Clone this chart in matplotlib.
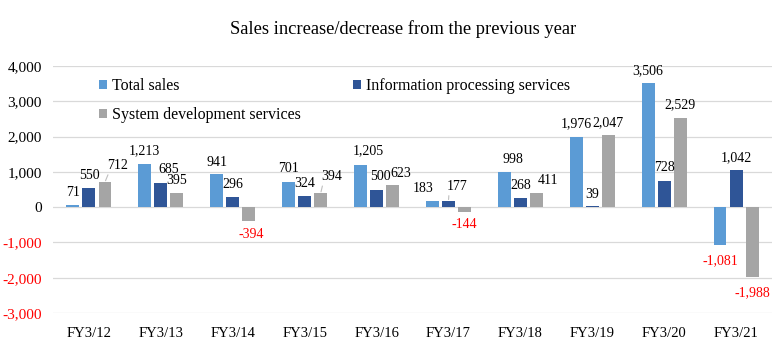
import matplotlib
matplotlib.use("Agg")
import matplotlib.pyplot as plt
import numpy as np

plt.rcParams['font.family'] = ['Liberation Serif', 'DejaVu Serif']

# data
years = ['FY3/12', 'FY3/13', 'FY3/14', 'FY3/15', 'FY3/16',
         'FY3/17', 'FY3/18', 'FY3/19', 'FY3/20', 'FY3/21']
total_sales = [71, 1213, 941, 701, 1205, 183, 998, 1976, 3506, -1081]
info_proc = [550, 685, 296, 324, 500, 177, 268, 39, 728, 1042]
sys_dev = [712, 395, -394, 394, 623, -144, 411, 2047, 2529, -1988]

# label nudges in pixels (dx, dy), like the hand-moved labels in the original
off_total = [(0, 4), (0, 5), (0, 3), (0, 5), (8, 5), (-9, 4), (9, 4), (0, 5), (0, 4), (0, -7)]
off_info = [(0, 4), (8, 5), (0, 4), (0, 4), (4, 4), (9, 6), (0, 4), (0, 3), (0, 5), (0, 4)]
off_sys = [(13, 8), (0, 4), (2, -5), (11, 8), (8, 3), (0, -4), (12, 4), (0, 4), (0, 5), (0, -7)]
leader = {('sys', 0), ('sys', 3), ('info', 5)}

c_total = '#5B9BD5'
c_info = '#2F5597'
c_sys = '#A5A5A5'

fig = plt.figure(figsize=(7.84, 3.53), dpi=100)
ax = fig.add_axes([53/784, 1-313/353, (772-53)/784, (313-66)/353])

x = np.arange(len(years))
w = 0.18
step = 0.223
b1 = ax.bar(x - step, total_sales, w, color=c_total, label='Total sales', zorder=2)
b3 = ax.bar(x + step, sys_dev, w, color=c_sys, label='System development services', zorder=2)
b2 = ax.bar(x, info_proc, w, color=c_info, label='Information processing services', zorder=2)


def put_labels(bars, vals, offs, key):
    for i, (b, v) in enumerate(zip(bars, vals)):
        dx, dy = offs[i]
        bx = b.get_x() + b.get_width()/2
        if v >= 0:
            gap = 2 + dy
            va = 'bottom'
            col = 'black'
        else:
            gap = -2 + dy
            va = 'top'
            col = '#FF0000'
        kw = {}
        if (key, i) in leader:
            kw['arrowprops'] = dict(arrowstyle='-', color='#BFBFBF', lw=0.8,
                                    shrinkA=0, shrinkB=1, relpos=(0.1, 0.1))
        ax.annotate(f'{v:,}', (bx, v), xytext=(dx, gap), textcoords='offset pixels',
                    ha='center', va=va, fontsize=10, color=col, **kw)


put_labels(b1, total_sales, off_total, 'total')
put_labels(b2, info_proc, off_info, 'info')
put_labels(b3, sys_dev, off_sys, 'sys')

ax.set_xlim(-0.5, len(years) - 0.5)
ax.set_ylim(-3000, 4000)
yt = np.arange(-3000, 4001, 1000)
ax.set_yticks(yt)
ax.set_yticklabels([f'{v:,}' for v in yt], fontsize=11)
for lab, v in zip(ax.get_yticklabels(), yt):
    if v < 0:
        lab.set_color('#FF0000')
ax.set_xticks(x)
ax.set_xticklabels(years, fontsize=10.5)
ax.tick_params(axis='both', length=0)
ax.tick_params(axis='x', pad=10)
ax.tick_params(axis='y', pad=8)
ax.grid(axis='y', color='#D9D9D9', lw=0.9, zorder=0)
ax.set_axisbelow(True)
for s in ax.spines.values():
    s.set_visible(False)

ax.legend(handles=[b1, b3, b2], ncol=2, loc='upper left',
          bbox_to_anchor=(99/784, 1-78/353), bbox_transform=fig.transFigure,
          frameon=False, fontsize=11.5, borderpad=0, borderaxespad=0,
          handlelength=0.5, handleheight=0.5, handletextpad=0.3,
          columnspacing=3.3, labelspacing=0.8)

fig.text(0.514, 1-29/353, 'Sales increase/decrease from the previous year',
         ha='center', va='center', fontsize=13.3)

fig.savefig('out.png', dpi=100)
